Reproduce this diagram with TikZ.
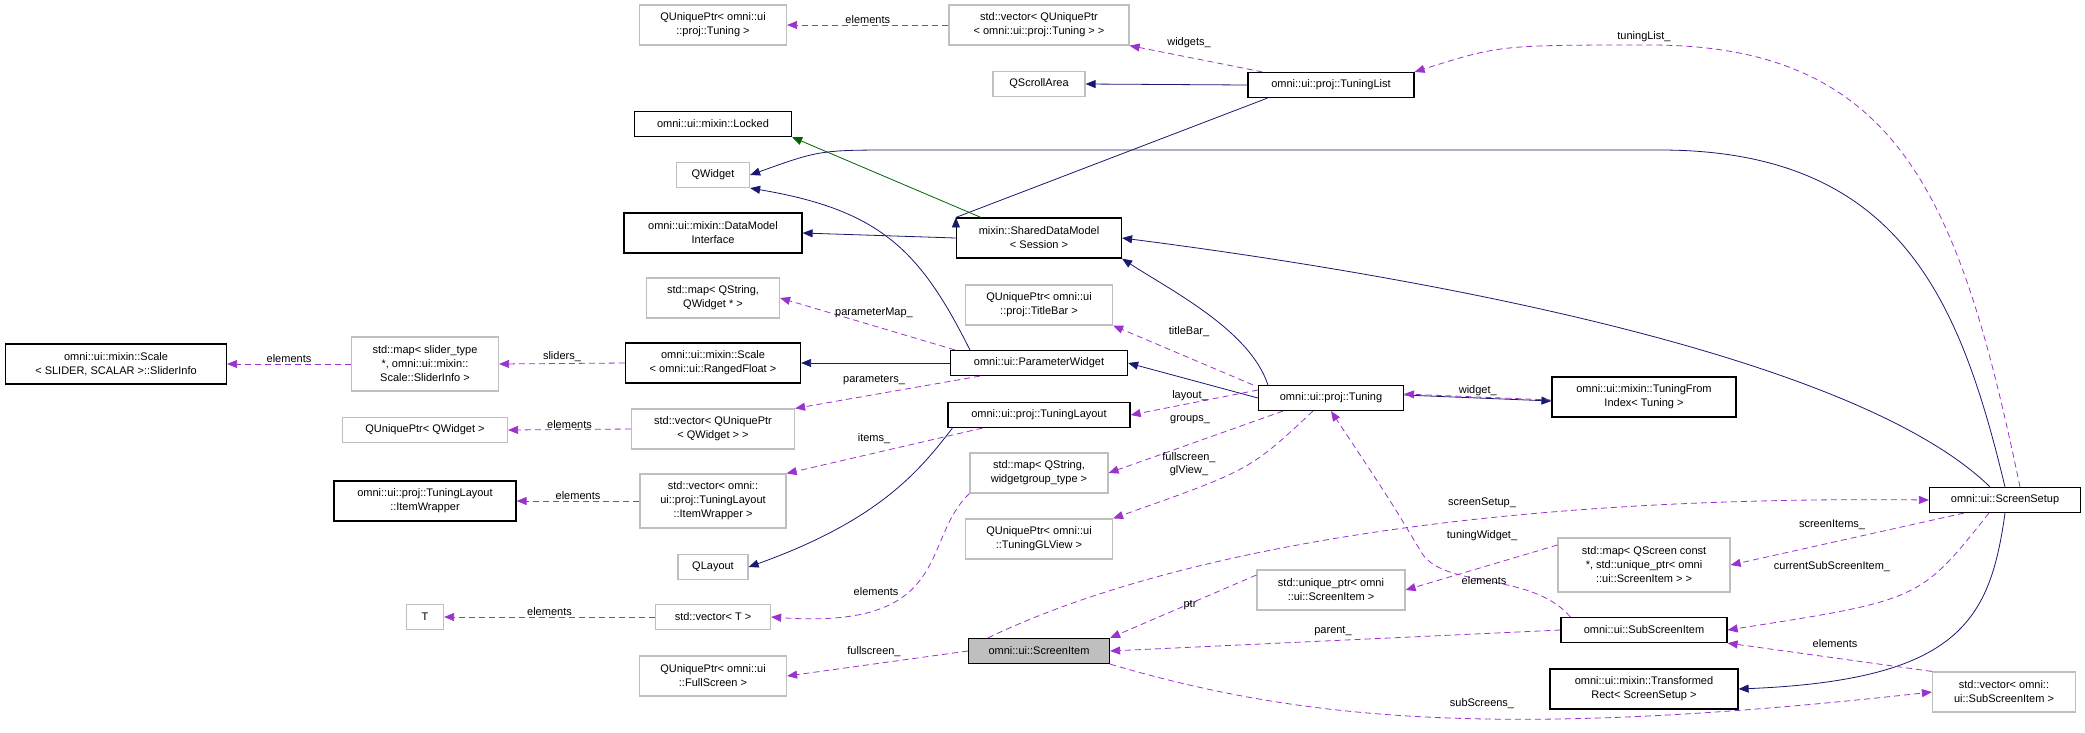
\documentclass[tikz,border=0pt]{standalone}
\usepackage{fontspec}
\setmainfont{Liberation Sans}
\usetikzlibrary{arrows.meta}
\definecolor{inhblue}{RGB}{25,25,112}
\definecolor{inhgreen}{RGB}{0,100,0}
\definecolor{usepurple}{RGB}{154,50,205}
\definecolor{extgray}{RGB}{191,191,191}
\tikzset{
  cls/.style={draw=black, line width=1.2pt, fill=white, align=center, inner sep=2pt, minimum height=25pt, font=\fontsize{11}{14}\selectfont},
  ext/.style={cls, draw=extgray},
  hit/.style={cls, fill=extgray},
  inh/.style={draw=inhblue, line width=0.8pt, -{Triangle[length=10pt,width=8pt]}},
  grn/.style={inh, draw=inhgreen, -{Triangle[length=10pt,width=8pt,fill=inhgreen]}},
  use/.style={draw=usepurple, line width=0.8pt, dash pattern=on 6pt off 4pt, -{Triangle[length=10pt,width=8pt,fill=usepurple]}},
  lbl/.style={font=\fontsize{11}{13}\selectfont, inner sep=1pt, align=center}
}
\begin{document}
\begin{tikzpicture}[x=1pt,y=-1pt]
\useasboundingbox (0,0) rectangle (2085,732);
%Nodes, top row
\node[ext, minimum width=147pt, minimum height=40pt] (qupTuning) at (713,25) {QUniquePtr< omni::ui\\::proj::Tuning >};
\node[ext, minimum width=180pt, minimum height=40pt] (vecTuning) at (1039,25) {std::vector< QUniquePtr\\< omni::ui::proj::Tuning > >};
\node[ext, minimum width=92pt] (scroll) at (1039,84) {QScrollArea};
\node[cls, minimum width=166pt] (tlist) at (1331,85) {omni::ui::proj::TuningList};
\node[cls, minimum width=157pt] (locked) at (713,124) {omni::ui::mixin::Locked};
\node[ext, minimum width=73pt] (qwidget) at (713,175) {QWidget};
\node[cls, minimum width=178pt, minimum height=40pt] (datamodel) at (713,233) {omni::ui::mixin::DataModel\\Interface};
\node[cls, minimum width=165pt, minimum height=40pt] (shared) at (1039,238) {mixin::SharedDataModel\\< Session >};
\node[ext, minimum width=133pt, minimum height=40pt] (mapQW) at (713,298) {std::map< QString,\\QWidget * >};
\node[ext, minimum width=147pt, minimum height=40pt] (titlebar) at (1039,305) {QUniquePtr< omni::ui\\::proj::TitleBar >};
%Middle
\node[cls, minimum width=221pt, minimum height=40pt] (sliderinfo) at (116,364) {omni::ui::mixin::Scale\\< SLIDER, SCALAR >::SliderInfo};
\node[ext, minimum width=147pt, minimum height=54pt] (mapslider) at (425,364) {std::map< slider\_type\\*, omni::ui::mixin::\\Scale::SliderInfo >};
\node[cls, minimum width=175pt, minimum height=40pt] (scale) at (713,363) {omni::ui::mixin::Scale\\< omni::ui::RangedFloat >};
\node[cls, minimum width=177pt] (paramw) at (1039,363) {omni::ui::ParameterWidget};
\node[cls, minimum width=145pt] (tuning) at (1331,398) {omni::ui::proj::Tuning};
\node[cls, minimum width=184pt, minimum height=40pt] (fromidx) at (1644,397) {omni::ui::mixin::TuningFrom\\Index< Tuning >};
\node[cls, minimum width=182pt] (tlayout) at (1039,415) {omni::ui::proj::TuningLayout};
\node[ext, minimum width=163pt, minimum height=40pt] (vecQW) at (713,429) {std::vector< QUniquePtr\\< QWidget > >};
\node[ext, minimum width=165pt] (qupQW) at (425,430) {QUniquePtr< QWidget >};
\node[cls, minimum width=182pt, minimum height=40pt] (wrapper) at (425,501) {omni::ui::proj::TuningLayout\\::ItemWrapper};
\node[ext, minimum width=146pt, minimum height=54pt] (vecwrap) at (713,501) {std::vector< omni::\\ui::proj::TuningLayout\\::ItemWrapper >};
\node[ext, minimum width=138pt, minimum height=40pt] (mapgroup) at (1039,473) {std::map< QString,\\widgetgroup\_type >};
\node[ext, minimum width=147pt, minimum height=40pt] (glview) at (1039,539) {QUniquePtr< omni::ui\\::TuningGLView >};
\node[ext, minimum width=70pt] (qlayout) at (713,567) {QLayout};
\node[ext, minimum width=37pt] (tT) at (425,617) {T};
\node[ext, minimum width=115pt] (vecT) at (713,617) {std::vector< T >};
%Bottom and right
\node[hit, minimum width=141pt] (sitem) at (1039,651) {omni::ui::ScreenItem};
\node[ext, minimum width=147pt, minimum height=40pt] (fullscr) at (713,676) {QUniquePtr< omni::ui\\::FullScreen >};
\node[cls, minimum width=151pt] (ssetup) at (2005,500) {omni::ui::ScreenSetup};
\node[ext, minimum width=172pt, minimum height=54pt] (mapscr) at (1644,565) {std::map< QScreen const\\*, std::unique\_ptr< omni\\::ui::ScreenItem > >};
\node[ext, minimum width=148pt, minimum height=40pt] (uptr) at (1331,590) {std::unique\_ptr< omni\\::ui::ScreenItem >};
\node[cls, minimum width=166pt] (subitem) at (1644,630) {omni::ui::SubScreenItem};
\node[cls, minimum width=188pt, minimum height=40pt] (trect) at (1644,689) {omni::ui::mixin::Transformed\\Rect< ScreenSetup >};
\node[ext, minimum width=143pt, minimum height=40pt] (vecsub) at (2004,692) {std::vector< omni::\\ui::SubScreenItem >};
%Inheritance
\draw[inh] (tlist.west) -- (scroll.east);
\draw[inh] (tlist.south west) ++(20pt,0) -- (shared.north west) ++(0,0);
\draw[grn] (shared.north west) ++(25pt,0) coordinate (g0) -- (locked.south east);
\draw[inh] (ssetup.north) .. controls (1960,300) and (1900,150) .. (1660,150) -- (900,150) .. controls (820,150) .. (qwidget.east);
\draw[inh] (paramw.north west) ++(20pt,0) .. controls (920,250) and (880,210) .. (qwidget.south east);
\draw[inh] (shared.west) -- (datamodel.east);
\draw[inh] (ssetup.north) ++(-15pt,0) .. controls (1860,360) and (1450,280) .. (shared.east);
\draw[inh] (tuning.north west) ++(10pt,0) .. controls (1250,330) and (1170,290) .. (shared.south east);
\draw[inh] (paramw.west) -- (scale.east);
\draw[inh] (tuning.west) -- (paramw.east);
\draw[inh] (tlayout.south west) ++(5pt,0) .. controls (920,470) and (880,520) .. (qlayout.east);
\draw[inh] (tuning.east) ++(0,3pt) -- (fromidx.west |- 0,401);
\draw[inh] (ssetup.south) .. controls (1990,620) and (1960,680) .. (trect.east);
%Usage
\draw[use] (vecTuning.west) -- node[lbl, above] (lElTun) {elements} (qupTuning.east);
\draw[use] (tlist.north west) ++(15pt,0) -- (vecTuning.south east);
\node[lbl] (lWidgets) at (1189,43) {widgets\_};
\draw[use] (ssetup.north) ++(15pt,0) .. controls (1960,200) and (1900,45) .. (1650,45) .. controls (1500,45) .. (tlist.north east);
\node[lbl] (lTList) at (1644,37) {tuningList\_};
\draw[use] (paramw.north west) ++(5pt,0) -- (mapQW.east);
\node[lbl] (lPMap) at (874,313) {parameterMap\_};
\draw[use] (scale.west) -- node[lbl, above] (lSliders) {sliders\_} (mapslider.east);
\draw[use] (mapslider.west) -- node[lbl, above] (lElSl) {elements} (sliderinfo.east);
\draw[use] (tuning.north west) ++(-5pt,0) -- (titlebar.south east);
\node[lbl] (lTitle) at (1189,332) {titleBar\_};
\draw[use] (paramw.south west) ++(30pt,0) -- (vecQW.north east);
\node[lbl] (lParams) at (874,380) {parameters\_};
\draw[use] (vecQW.west) -- node[lbl, above] (lElQW) {elements} (qupQW.east);
\draw[use] (tuning.west) ++(0,8pt) -- (tlayout.east);
\node[lbl] (lLayout) at (1190,396) {layout\_};
\draw[use] (tlayout.south west) ++(35pt,0) -- (vecwrap.north east);
\node[lbl] (lItems) at (874,439) {items\_};
\draw[use] (vecwrap.west) -- node[lbl, above] (lElWr) {elements} (wrapper.east);
\draw[use] (tuning.south west) ++(25pt,0) -- (mapgroup.east);
\node[lbl] (lGroups) at (1190,420) {groups\_};
\draw[use] (tuning.south west) ++(55pt,0) .. controls (1250,470) .. (glview.north east);
\node[lbl] (lGl) at (1189,464) {fullscreen\_\\glView\_};
\draw[use] (fromidx.west) ++(0,-3pt) -- node[lbl, above] (lWidget) {widget\_} (tuning.east |- 0,394);
\draw[use] (mapgroup.south west) .. controls (920,540) and (955,630) .. (vecT.east);
\node[lbl] (lElT2) at (876,592) {elements};
\draw[use] (vecT.west) -- node[lbl, above] (lElT) {elements} (tT.east);
\draw[use] (sitem.west) -- (fullscr.east);
\node[lbl] (lFull) at (874,652) {fullscreen\_};
\draw[use] (sitem.north west) ++(20pt,0) .. controls (1150,560) and (1450,495) .. (ssetup.west);
\node[lbl] (lSetup) at (1482,503) {screenSetup\_};
\draw[use] (subitem.north west) ++(10pt,0) .. controls (1530,570) and (1440,590) .. (1420,550) .. controls (1390,500) .. (tuning.south);
\node[lbl] (lTW) at (1482,536) {tuningWidget\_};
\draw[use] (mapscr.west) ++(0,20pt) -- (uptr.east);
\node[lbl] (lElS) at (1484,581) {elements};
\draw[use] (uptr.west) ++(0,15pt) -- (sitem.north east);
\node[lbl] (lPtr) at (1190,605) {ptr};
\draw[use] (subitem.west) -- (sitem.east);
\node[lbl] (lParent) at (1333,631) {parent\_};
\draw[use] (ssetup.south west) ++(35pt,0) -- (mapscr.east);
\node[lbl] (lSItems) at (1832,525) {screenItems\_};
\draw[use] (ssetup.south west) ++(60pt,0) .. controls (1920,600) .. (subitem.east);
\node[lbl] (lCur) at (1832,567) {currentSubScreenItem\_};
\draw[use] (vecsub.north west) -- (subitem.south east);
\node[lbl] (lElSub) at (1835,644) {elements};
\draw[use] (sitem.south east) .. controls (1300,720) and (1500,740) .. (vecsub.west);
\node[lbl] (lSub) at (1482,704) {subScreens\_};
\end{tikzpicture}
\end{document}
